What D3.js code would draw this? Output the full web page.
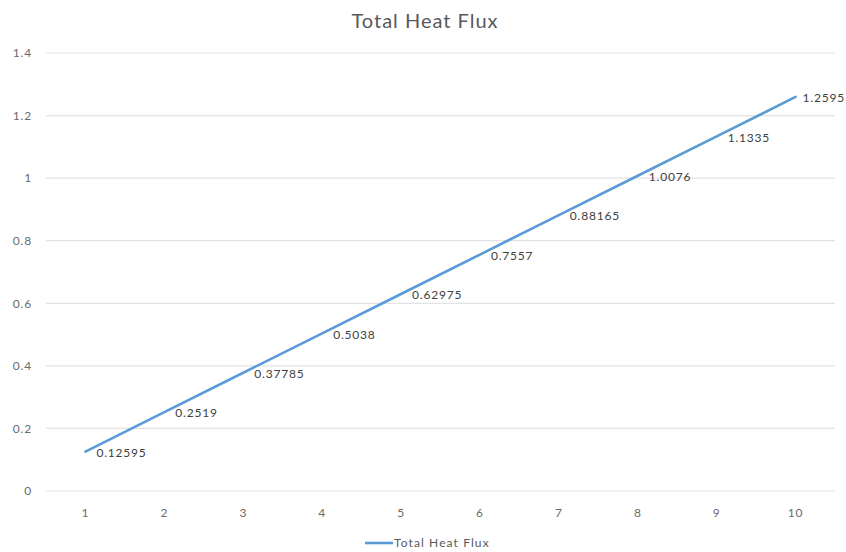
<!DOCTYPE html>
<html><head><meta charset="utf-8">
<script src="https://cdn.jsdelivr.net/npm/d3@7"></script>
<style>body{margin:0;background:#fff}svg{display:block}text{font-family:Lato,"Open Sans",sans-serif}</style>
</head><body><svg id="c" width="846" height="552"></svg>
<script>
const categories = [1,2,3,4,5,6,7,8,9,10];
const values = [0.12595,0.2519,0.37785,0.5038,0.62975,0.7557,0.88165,1.0076,1.1335,1.2595];
const yTicks = [0,0.2,0.4,0.6,0.8,1,1.2,1.4];
const seriesName = "Total Heat Flux";
const title = "Total Heat Flux";

(function(){
const svg = d3.select("#c");
const W = 846;
const pl = 46, pr = 835, pt = 53, pb = 491;
const x = d3.scaleBand().domain(categories).range([pl, pr]);
const y = d3.scaleLinear().domain([0,1.4]).range([pb, pt]);
const cx = d => x(d) + x.bandwidth()/2;

svg.append("g").selectAll("line").data(yTicks).join("line")
  .attr("x1", pl).attr("x2", pr)
  .attr("y1", d => y(d)).attr("y2", d => y(d))
  .attr("stroke", "#e3e3e3").attr("stroke-width", 1.2);

const ya = svg.append("g").attr("transform", `translate(${pl-14},0)`)
  .call(d3.axisLeft(y).tickValues(yTicks).tickSize(0).tickPadding(0).tickFormat(d => String(d)));
ya.select(".domain").remove();
ya.selectAll("text").attr("fill", "#6b6b6b").attr("font-size", 12).attr("letter-spacing", "0.8px");

const xa = svg.append("g").attr("transform", `translate(0,${pb+17})`)
  .call(d3.axisBottom(x).tickSize(0).tickPadding(0));
xa.select(".domain").remove();
xa.selectAll("text").attr("fill", "#6b6b6b").attr("font-size", 12).attr("letter-spacing", "0.8px");

const line = d3.line().x((d,i) => cx(categories[i])).y(d => y(d));
svg.append("path").datum(values).attr("d", line)
  .attr("fill", "none").attr("stroke", "#5b9bd5").attr("stroke-width", 2.6).attr("stroke-linecap","round");

const labels = svg.append("g").selectAll("text").data(values).join("text")
  .attr("x", (d,i) => cx(categories[i]) + 11)
  .attr("y", d => y(d) + 1)
  .attr("dy", "0.35em")
  .attr("font-size", 12).attr("letter-spacing", "0.8px").attr("fill", "#404040")
  .text(d => String(d));
labels.each(function(d,i){
  const w = this.getComputedTextLength();
  const x0 = cx(categories[i]) + 11;
  if (x0 + w > W - 1) d3.select(this).attr("x", W - 1 - w);
});

svg.append("text").attr("x", 425).attr("y", 28).attr("text-anchor", "middle")
  .attr("font-size", 20).attr("letter-spacing", "1px").attr("fill", "#595959").text(title);

const lg = svg.append("g").attr("transform", "translate(365,543)");
lg.append("line").attr("x1", 0).attr("x2", 28).attr("stroke", "#5b9bd5").attr("stroke-width", 2.6);
lg.append("text").attr("x", 29).attr("dy", "0.35em").attr("font-size", 12).attr("letter-spacing", "1.1px").attr("fill", "#595959").text(seriesName);
})();
</script></body></html>
